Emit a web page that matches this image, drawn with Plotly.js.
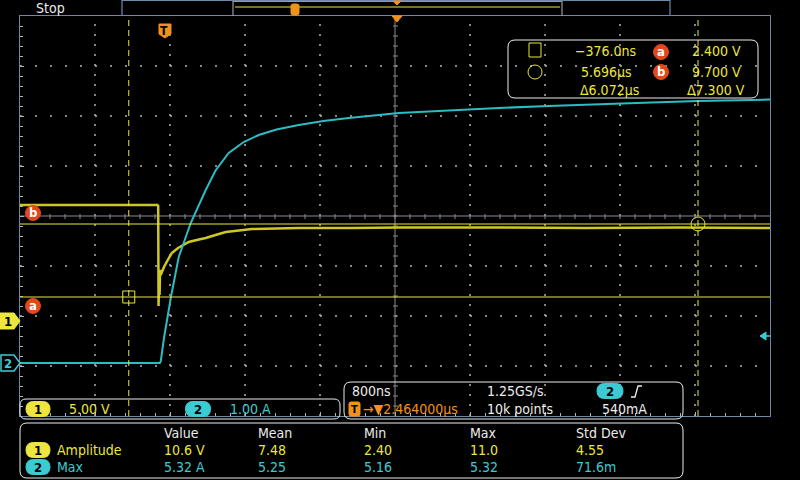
<!DOCTYPE html>
<html><head><meta charset="utf-8">
<script src="https://cdn.plot.ly/plotly-3.0.1.min.js"></script>
<style>html,body{margin:0;padding:0;background:#000;}</style>
</head><body><div id="chart" style="width:800px;height:480px"></div>
<script>
// ---- data (time in µs) ----
const ch1Time = [-1.536, -0.07, -0.062, -0.058, -0.052, -0.047, -0.042, -0.035, -0.02, 0.0, 0.04, 0.083, 0.15, 0.264, 0.35, 0.445, 0.55, 0.659, 0.8, 0.936, 1.2, 1.437, 2.0, 2.504, 3.5, 4.5, 5.5, 6.464];
const ch1Volts = [11.6, 11.6, 11.5, 1.5, 4.4, 2.6, 5.1, 4.6, 5.0, 5.4, 6.1, 6.8, 7.3, 7.9, 8.1, 8.3, 8.6, 8.9, 9.05, 9.2, 9.25, 9.3, 9.3, 9.35, 9.35, 9.3, 9.35, 9.3];
const ch2Time = [-1.536, -0.045, -0.035, 0.0, 0.072, 0.157, 0.285, 0.445, 0.55, 0.69, 0.85, 1.01, 1.2, 1.437, 1.7, 1.97, 2.504, 3.0, 3.57, 4.1, 4.637, 5.2, 5.70, 6.464];
const ch2Amps = [0, 0, 0.03, 0.5, 1.3, 2.12, 2.8, 3.46, 3.85, 4.2, 4.42, 4.56, 4.67, 4.76, 4.84, 4.9, 5.0, 5.05, 5.1, 5.14, 5.18, 5.21, 5.24, 5.27];
const cursorTimes = [-0.376, 5.696];
const cursorVolts = [2.4, 9.7];
const cursorTimeText = ["\u2212376.0ns", "5.696\u00b5s", "\u03946.072\u00b5s"];
const cursorVoltText = ["2.400 V", "9.700 V", "\u03947.300 V"];
const triggerLevelA = 0.54;
const measHeaders = ["Value", "Mean", "Min", "Max", "Std Dev"];
const measCh1 = ["10.6 V", "7.48", "2.40", "11.0", "4.55"];
const measCh2 = ["5.32 A", "5.25", "5.16", "5.32", "71.6m"];

// ---- geometry helpers (pixels -> paper) ----
const L = 20, R = 770, T = 16, B = 416;
const px = x => (x - L) / (R - L);
const py = y => (B - y) / (B - T);
const FONT = "DejaVu Sans Condensed, Liberation Sans Narrow, Liberation Sans, Arial Narrow, sans-serif";
const YEL = "#ece63e", CYN = "#3ccbd2", ORG = "#f0921c", RED = "#e2481c", WHT = "#ececec", BORD = "#6d89aa", GRID = "#b4b4b4";

function P(x, y) { return px(x).toFixed(5) + "," + py(y).toFixed(5); }
function rrect(x0, y0, x1, y1, r) {
  return `M${P(x0 + r, y0)} L${P(x1 - r, y0)} Q${P(x1, y0)} ${P(x1, y0 + r)} L${P(x1, y1 - r)} Q${P(x1, y1)} ${P(x1 - r, y1)} L${P(x0 + r, y1)} Q${P(x0, y1)} ${P(x0, y1 - r)} L${P(x0, y0 + r)} Q${P(x0, y0)} ${P(x0 + r, y0)} Z`;
}
function pathShape(path, lineColor, fill, w) {
  return {type: "path", xref: "paper", yref: "paper", path: path, layer: "above",
    line: {color: lineColor, width: w === undefined ? 1 : w}, fillcolor: fill || "rgba(0,0,0,0)"};
}
function txt(x, y, text, color, anchor, size, extra) {
  return Object.assign({xref: "paper", yref: "paper", x: px(x), y: py(y), text: text, showarrow: false,
    xanchor: anchor || "left", yanchor: "middle", font: {family: FONT, size: size || 13, color: color}}, extra || {});
}
function pill(cx, cy, w, h, color, label, labelColor) {
  shapes.push(pathShape(rrect(cx - w / 2, cy - h / 2, cx + w / 2, cy + h / 2, h / 2), color, color, 1));
  annotations.push(txt(cx, cy + 0.5, "<b>" + label + "</b>", labelColor || "#000", "center", 13));
}
function badge(cx, cy, letter) {
  shapes.push({type: "circle", xref: "paper", yref: "paper", x0: px(cx - 7.5), x1: px(cx + 7.5), y0: py(cy + 7.5), y1: py(cy - 7.5),
    fillcolor: RED, line: {color: RED, width: 1}, layer: "above"});
  annotations.push(txt(cx, cy - 0.5, "<b>" + letter + "</b>", "#fff", "center", 13));
}

const shapes = [], annotations = [];

// graticule division lines (dotted)
for (let k = 1; k < 10; k++) {
  if (k === 5) continue;
  shapes.push({type: "line", xref: "paper", yref: "paper", x0: k / 10, x1: k / 10, y0: 0, y1: 1,
    line: {color: GRID, width: 1.5, dash: "2px,8px"}, layer: "below"});
}
for (let k = 1; k < 8; k++) {
  if (k === 4) continue;
  shapes.push({type: "line", xref: "paper", yref: "paper", x0: 0, x1: 1, y0: k / 8, y1: k / 8,
    line: {color: GRID, width: 1.5, dash: "2px,13px"}, layer: "below"});
}

// center crosshair (solid gray) with fine ticks
shapes.push({type: "line", xref: "x", yref: "paper", x0: 2.464, x1: 2.464, y0: 0, y1: 1, line: {color: "#8a8a8a", width: 1}, layer: "below"});
shapes.push({type: "line", xref: "paper", yref: "paper", x0: 0, x1: 1, y0: 0.5, y1: 0.5, line: {color: "#8a8a8a", width: 1}, layer: "below"});
for (let k = 1; k < 50; k++) {
  const x = L + k * 15;
  shapes.push({type: "line", xref: "paper", yref: "paper", x0: px(x), x1: px(x), y0: py(214), y1: py(219), line: {color: "#8a8a8a", width: 1}, layer: "below"});
}
for (let k = 1; k < 40; k++) {
  const y = T + k * 10;
  shapes.push({type: "line", xref: "paper", yref: "paper", x0: px(393), x1: px(398), y0: py(y), y1: py(y), line: {color: "#8a8a8a", width: 1}, layer: "below"});
}

// cursors
cursorTimes.forEach(t => shapes.push({type: "line", xref: "x", yref: "paper", x0: t, x1: t, y0: 0, y1: 1,
  line: {color: YEL, width: 1, dash: "6px,4px"}, layer: "above"}));
cursorVolts.forEach(v => shapes.push({type: "line", xref: "paper", yref: "y", x0: 0, x1: 1, y0: v, y1: v,
  line: {color: YEL, width: 1}, layer: "above"}));
shapes.push({type: "rect", xref: "x", yref: "y", xsizemode: "pixel", ysizemode: "pixel", xanchor: cursorTimes[0], yanchor: cursorVolts[0],
  x0: -6, x1: 6, y0: -6, y1: 6, line: {color: YEL, width: 1}, layer: "above"});
shapes.push({type: "circle", xref: "x", yref: "y", xsizemode: "pixel", ysizemode: "pixel", xanchor: cursorTimes[1], yanchor: cursorVolts[1],
  x0: -7, x1: 7, y0: -7, y1: 7, line: {color: YEL, width: 1}, layer: "above"});
badge(33, 213, "b");
badge(33, 306, "a");

// channel markers on left
shapes.push(pathShape(`M${P(0, 313)} L${P(14, 313)} L${P(20, 321)} L${P(14, 329)} L${P(0, 329)} Z`, YEL, YEL, 1));
annotations.push(txt(8, 321.5, "<b>1</b>", "#000", "center", 13));
shapes.push(pathShape(`M${P(1, 355)} L${P(14, 355)} L${P(20, 363)} L${P(14, 371)} L${P(1, 371)} Z`, CYN, "#000", 1.5));
annotations.push(txt(8, 363.5, "<b>2</b>", CYN, "center", 13));

// trigger level arrow on right (ch2)
shapes.push({type: "path", xref: "paper", yref: "y2", layer: "above", fillcolor: CYN, line: {color: CYN, width: 1},
  path: `M${px(760).toFixed(5)},${triggerLevelA} L${px(766).toFixed(5)},${triggerLevelA + 0.08} L${px(766).toFixed(5)},${triggerLevelA - 0.08} Z`});
shapes.push({type: "line", xref: "paper", yref: "y2", x0: px(766), x1: 1, y0: triggerLevelA, y1: triggerLevelA, line: {color: CYN, width: 1.5}, layer: "above"});

// trigger markers
shapes.push(pathShape(`M${P(159, 24)} L${P(171, 24)} L${P(171, 34)} L${P(165, 38)} L${P(159, 34)} Z`, ORG, ORG, 1));
annotations.push({xref: "x", yref: "paper", x: 0, y: py(30.5), text: "<b>T</b>", showarrow: false, xanchor: "center", yanchor: "middle",
  font: {family: FONT, size: 12, color: "#000"}});
shapes.push(pathShape(`M${P(392, 16)} L${P(402, 16)} L${P(397, 22)} Z`, ORG, ORG, 1));

// top record bar
annotations.push(txt(34, 8, "Stop", WHT, "left", 14));
shapes.push(pathShape(`M${P(122, 16)} L${P(122, 0.5)} L${P(670, 0.5)} L${P(670, 16)}`, BORD, null, 1.2));
shapes.push(pathShape(`M${P(233, 16)} L${P(233, 1.5)} L${P(562, 1.5)} L${P(562, 16)}`, "#9a9a9a", null, 1.2));
shapes.push({type: "line", xref: "paper", yref: "paper", x0: px(235), x1: px(560), y0: py(7), y1: py(7), line: {color: YEL, width: 1}, layer: "above"});
shapes.push(pathShape(rrect(291, 4, 299, 15, 2), ORG, ORG, 1));
shapes.push(pathShape(`M${P(393, 1)} L${P(401, 1)} L${P(397, 5)} Z`, ORG, ORG, 1));

// cursor readout box
shapes.push(pathShape(rrect(508, 40, 758, 98, 7), WHT, null, 1));
shapes.push({type: "rect", xref: "paper", yref: "paper", x0: px(529), x1: px(541), y0: py(57), y1: py(43), line: {color: YEL, width: 1}, layer: "above"});
shapes.push({type: "circle", xref: "paper", yref: "paper", x0: px(528), x1: px(542), y0: py(79), y1: py(65), line: {color: YEL, width: 1}, layer: "above"});
annotations.push(txt(638, 51, cursorTimeText[0], YEL, "right", 14));
annotations.push(txt(634, 72, cursorTimeText[1], YEL, "right", 14));
annotations.push(txt(641, 90, cursorTimeText[2], YEL, "right", 14));
badge(661, 52, "a");
badge(661, 72, "b");
annotations.push(txt(690, 51, cursorVoltText[0], YEL, "left", 14));
annotations.push(txt(690, 72, cursorVoltText[1], YEL, "left", 14));
annotations.push(txt(685, 90, cursorVoltText[2], YEL, "left", 14));

// channel scale box
shapes.push(pathShape(rrect(20, 399, 340, 419, 6), WHT, null, 1));
pill(38, 409, 24, 15, YEL, "1");
annotations.push(txt(67, 409, "5.00 V", YEL, "left", 14));
pill(198, 409, 25, 15, CYN, "2");
annotations.push(txt(228, 409, "1.00 A", CYN, "left", 14));

// horizontal / trigger box
shapes.push(pathShape(rrect(344, 382, 683, 419, 7), WHT, null, 1));
annotations.push(txt(350, 391, "800ns", WHT, "left", 14));
annotations.push(txt(485, 391, "1.25GS/s", WHT, "left", 14));
pill(610, 391, 26, 15, CYN, "2");
shapes.push(pathShape(`M${P(631, 397)} L${P(635, 397)} L${P(638, 386)} L${P(642, 386)}`, WHT, null, 1.3));
shapes.push(pathShape(rrect(349, 402, 360, 416, 2), ORG, ORG, 1));
annotations.push(txt(354.5, 409, "<b>T</b>", "#000", "center", 11));
annotations.push(txt(361, 409, "\u2192\u25bc2.464000\u00b5s", ORG, "left", 14));
annotations.push(txt(485, 409, "10k points", WHT, "left", 14));
annotations.push(txt(600, 409, "540mA", WHT, "left", 14));

// measurement box
shapes.push(pathShape(rrect(20, 423, 683, 478, 7), WHT, null, 1));
const colX = [162, 256, 362, 468, 574];
measHeaders.forEach((h, i) => annotations.push(txt(colX[i], 433, h, WHT, "left", 14)));
pill(38, 450, 24, 15, YEL, "1");
annotations.push(txt(55, 450, "Amplitude", YEL, "left", 14));
pill(38, 467, 24, 15, CYN, "2");
annotations.push(txt(55, 467, "Max", CYN, "left", 14));
measCh1.forEach((v, i) => annotations.push(txt(colX[i], 450, v, YEL, "left", 14)));
measCh2.forEach((v, i) => annotations.push(txt(colX[i], 467, v, CYN, "left", 14)));

const traces = [
  {x: ch2Time, y: ch2Amps, yaxis: "y2", type: "scatter", mode: "lines", line: {color: "#2bbcc4", width: 2}, hoverinfo: "skip"},
  {x: ch1Time, y: ch1Volts, yaxis: "y", type: "scatter", mode: "lines", line: {color: "#cfc822", width: 2.5}, hoverinfo: "skip"}
];

const layout = {
  width: 800, height: 480, showlegend: false,
  paper_bgcolor: "#000", plot_bgcolor: "#000",
  margin: {l: L, r: 800 - R, t: T, b: 480 - B, pad: 0},
  xaxis: {range: [-1.536, 6.464], tick0: -1.536, dtick: 0.8, showgrid: false,
    showticklabels: false, zeroline: false, showline: true, linecolor: BORD, linewidth: 1.2, mirror: true,
    ticks: "inside", ticklen: 4, tickcolor: GRID,
    minor: {dtick: 0.16, tick0: -1.536, ticks: "inside", ticklen: 3, tickcolor: GRID, showgrid: false}},
  yaxis: {range: [-9.5, 30.5], tick0: 0.5, dtick: 5, showgrid: false,
    showticklabels: false, zeroline: false, showline: true, linecolor: BORD, linewidth: 1.2, mirror: true,
    ticks: "inside", ticklen: 4, tickcolor: GRID,
    minor: {dtick: 1, tick0: 0.5, ticks: "inside", ticklen: 3, tickcolor: GRID, showgrid: false}},
  yaxis2: {range: [-1.06, 6.94], overlaying: "y", side: "right", showgrid: false, showticklabels: false, zeroline: false, showline: false, ticks: ""},
  shapes: shapes,
  annotations: annotations
};

Plotly.newPlot("chart", traces, layout, {staticPlot: true, displayModeBar: false});
</script>
</body></html>
